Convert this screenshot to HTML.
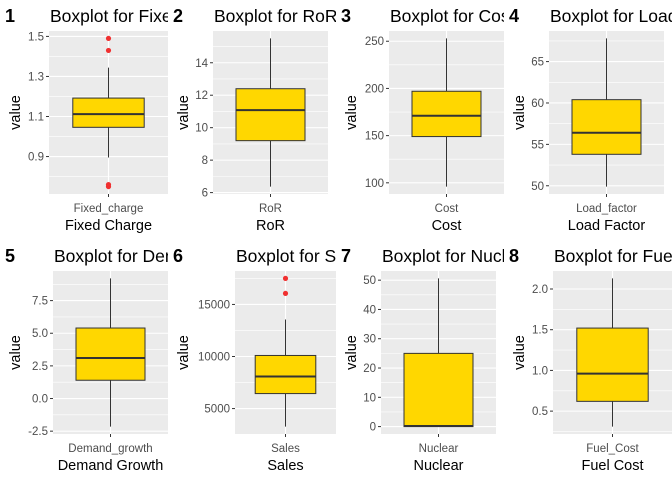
<!DOCTYPE html>
<html><head><meta charset="utf-8"><style>
html,body{margin:0;padding:0;background:#fff;}
svg{display:block;font-family:"Liberation Sans",Arial,sans-serif;}
</style></head><body>
<svg id="c" width="672" height="480"></svg>
<script>
const tags=["1","2","3","4","5","6","7","8"];
const titles=["Boxplot for Fixed_charge","Boxplot for RoR","Boxplot for Cost","Boxplot for Load_factor","Boxplot for Demand_growth","Boxplot for Sales","Boxplot for Nuclear","Boxplot for Fuel_Cost"];
const xTicks=["Fixed_charge","RoR","Cost","Load_factor","Demand_growth","Sales","Nuclear","Fuel_Cost"];
const xTitles=["Fixed Charge","RoR","Cost","Load Factor","Demand Growth","Sales","Nuclear","Fuel Cost"];
const lowWhisker=[0.895,6.37,96,49.9,-2.15,3270,0,0.31];
const q1=[1.046,9.2,149,53.8,1.4,6440,0,0.62];
const medians=[1.112,11.08,171,56.4,3.1,8080,0.2,0.96];
const q3=[1.192,12.4,197,60.4,5.4,10100,25,1.52];
const highWhisker=[1.344,15.5,253,67.8,9.2,13560,50.6,2.13];
const outliers=[[1.49,1.43,0.76,0.75],[],[],[],[],[17500,16060],[],[]];
const yTicks=[[0.9,1.1,1.3,1.5],[6,8,10,12,14],[100,150,200,250],[50,55,60,65],[-2.5,0,2.5,5,7.5],[5000,10000,15000],[0,10,20,30,40,50],[0.5,1,1.5,2]];
const yTickLabels=[["0.9","1.1","1.3","1.5"],["6","8","10","12","14"],["100","150","200","250"],["50","55","60","65"],["-2.5","0.0","2.5","5.0","7.5"],["5000","10000","15000"],["0","10","20","30","40","50"],["0.5","1.0","1.5","2.0"]];
// layout
const panelLeft=[49,45,53,45,53,67,45,49];
const panelRightRel=[168,160,168,160,168,168,160,168];
const NS="http://www.w3.org/2000/svg";
const svg=document.getElementById('c');
function mk(tag,attrs,parent){const e=document.createElementNS(NS,tag);for(const k in attrs)e.setAttribute(k,attrs[k]);parent.appendChild(e);return e;}
const defs=mk('defs',{},svg);
for(let i=0;i<8;i++){
  const col=i%4,row=Math.floor(i/4);
  const cx=col*168,cy=row*240;
  const cp=mk('clipPath',{id:'cp'+i},defs);
  mk('rect',{x:cx,y:cy,width:168,height:240},cp);
  const g=mk('g',{'clip-path':'url(#cp'+i+')'},svg);
  
  
  const L=cx+panelLeft[i],R=cx+panelRightRel[i],T=cy+31,B=cy+194;
  const all=[lowWhisker[i],highWhisker[i]].concat(outliers[i]);
  let mn=Math.min(...all),mx=Math.max(...all);const ex=(mx-mn)*0.05;mn-=ex;mx+=ex;
  const y=v=>B-(v-mn)/(mx-mn)*(B-T);
  const xc=(L+R)/2, bw=(R-L)*0.6;
  let t=mk('text',{x:cx+5,y:cy+22,'font-size':18,'font-weight':'bold',fill:'#000'},g);t.textContent=tags[i];
  
  t=mk('text',{x:L+1,y:cy+22,'font-size':17.5,fill:'#000'},g);t.textContent=titles[i];
  
  const bg=mk('rect',{x:L,y:T,width:R-L,height:B-T,fill:'#ebebeb'},g);
  
  const tk=yTicks[i],step=tk[1]-tk[0];
  for(let v=tk[0]-step/2;v<=tk[tk.length-1]+step;v+=step){const yy=y(v);if(yy>T&&yy<B)mk('line',{x1:L,x2:R,y1:yy,y2:yy,stroke:'#fff','stroke-width':0.6},g);}
  tk.forEach((v,j)=>{const yy=y(v);
    mk('line',{x1:L,x2:R,y1:yy,y2:yy,stroke:'#fff','stroke-width':1.1},g);
    mk('line',{x1:L-3,x2:L,y1:yy,y2:yy,stroke:'#333','stroke-width':1},g);
    const lb=mk('text',{x:L-5,y:yy+4,'font-size':11.5,fill:'#4d4d4d','text-anchor':'end'},g);lb.textContent=yTickLabels[i][j];
    });
  mk('line',{x1:xc,x2:xc,y1:T,y2:B,stroke:'#fff','stroke-width':1.1},g);
  mk('line',{x1:xc,x2:xc,y1:B,y2:B+3,stroke:'#333','stroke-width':1},g);
  const w=mk('line',{x1:xc,x2:xc,y1:y(highWhisker[i]),y2:y(lowWhisker[i]),stroke:'#333','stroke-width':1},g);
  
  const bx=mk('rect',{x:xc-bw/2,y:y(q3[i]),width:bw,height:Math.max(0.5,y(q1[i])-y(q3[i])),fill:'#ffd700',stroke:'#333','stroke-width':1},g);
  
  const md=mk('line',{x1:xc-bw/2,x2:xc+bw/2,y1:y(medians[i]),y2:y(medians[i]),stroke:'#333','stroke-width':2},g);
  
  outliers[i].forEach(v=>{const c=mk('circle',{cx:xc,cy:y(v),r:2.6,fill:'#f03030'},g);
    });
  t=mk('text',{x:xc,y:cy+212,'font-size':11.5,fill:'#4d4d4d','text-anchor':'middle'},g);t.textContent=xTicks[i];
  
  t=mk('text',{x:xc,y:cy+230,'font-size':14.5,fill:'#000','text-anchor':'middle'},g);t.textContent=xTitles[i];
  
  const ym=(T+B)/2;
  t=mk('text',{x:cx+20,y:ym,'font-size':14.5,fill:'#000','text-anchor':'middle',transform:'rotate(-90 '+(cx+20)+' '+ym+')'},g);t.textContent='value';
  
}
</script>
</body></html>
